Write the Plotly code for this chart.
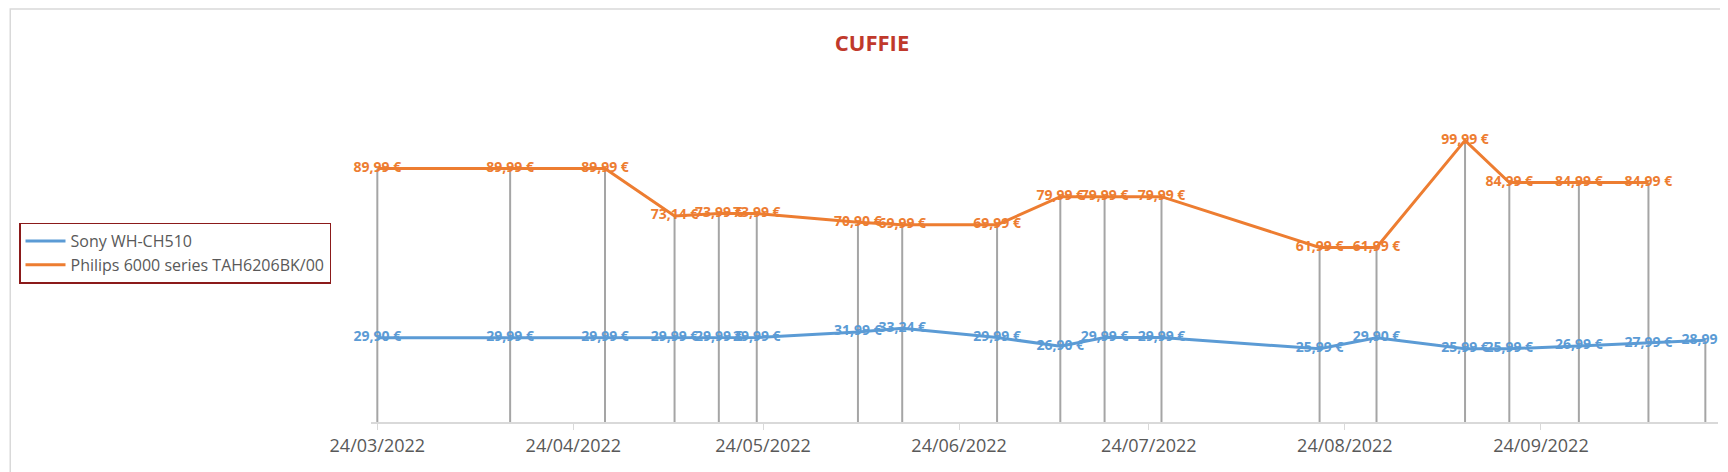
import plotly.graph_objects as go

dates = ["2022-03-24", "2022-04-14", "2022-04-29", "2022-05-10", "2022-05-17", "2022-05-23",
         "2022-06-08", "2022-06-15", "2022-06-30", "2022-07-10", "2022-07-17", "2022-07-26",
         "2022-08-20", "2022-08-29", "2022-09-12", "2022-09-19", "2022-09-30", "2022-10-11",
         "2022-10-20"]
sony = [29.90, 29.99, 29.99, 29.99, 29.99, 29.99, 31.99, 33.24, 29.99, 26.90, 29.99, 29.99,
        25.99, 29.90, 25.99, 25.99, 26.99, 27.99, 28.99]
philips = [89.99, 89.99, 89.99, 73.14, 73.99, 73.99, 70.90, 69.99, 69.99, 79.99, 79.99, 79.99,
           61.99, 61.99, 99.99, 84.99, 84.99, 84.99, None]
tick_dates = ["2022-03-24", "2022-04-24", "2022-05-24", "2022-06-24", "2022-07-24",
              "2022-08-24", "2022-09-24"]
tick_labels = ["24/03/2022", "24/04/2022", "24/05/2022", "24/06/2022", "24/07/2022",
               "24/08/2022", "24/09/2022"]

def euro(v):
    return "" if v is None else f"{v:.2f} €".replace(".", ",")

W, H = 1728, 472
ML, MR, MT, MB = 362, 18, 76, 58

fig = go.Figure()

# vertical drop lines from the highest value down to the axis
dx, dy = [], []
for d, s, p in zip(dates, sony, philips):
    top = max(v for v in (s, p) if v is not None)
    dx += [d, d, None]
    dy += [0, top, None]
fig.add_trace(go.Scatter(x=dx, y=dy, mode="lines", line=dict(color="#A5A5A5", width=2),
                         showlegend=False, hoverinfo="skip"))

for name, vals, color in [("Sony WH-CH510", sony, "#5B9BD5"),
                          ("Philips 6000 series TAH6206BK/00", philips, "#ED7D31")]:
    fig.add_trace(go.Scatter(x=dates, y=vals, name=name, mode="lines+text",
                             line=dict(color=color, width=3), cliponaxis=False,
                             text=[euro(v) for v in vals], textposition="middle center",
                             textfont=dict(family="Open Sans", size=14, color=color, weight="bold")))

fig.update_layout(
    width=W, height=H, margin=dict(l=ML, r=MR, t=MT, b=MB),
    paper_bgcolor="white", plot_bgcolor="white",
    font=dict(family="Open Sans", color="#595959"),
    title=dict(text="<b>CUFFIE</b>", x=0.5, xref="container", y=0.925, yanchor="middle",
               font=dict(size=22, color="#C0392B")),
    xaxis=dict(range=["2022-03-23", "2022-10-22"], tickvals=tick_dates, ticktext=tick_labels,
               showgrid=False, showline=True, linecolor="#D9D9D9", linewidth=2,
               ticks="outside", tickcolor="#D9D9D9", ticklen=6, tickfont=dict(size=18),
               zeroline=False),
    yaxis=dict(range=[0, 120], visible=False),
    legend=dict(x=-(ML - 11) / (W - ML - MR), xanchor="left", y=0.5, yanchor="middle",
                bordercolor="#8B1A1A", borderwidth=1.5, font=dict(size=16, color="#595959"),
                tracegroupgap=14, itemwidth=40),
)
fig.add_shape(type="rect", xref="paper", yref="paper",
              x0=-(ML - 1) / (W - ML - MR), x1=1 + (MR - 1) / (W - ML - MR),
              y0=-(MB - 1) / (H - MT - MB), y1=1 + (MT - 1) / (H - MT - MB),
              line=dict(color="#D9D9D9", width=1.5))

fig.write_html("out.html")
